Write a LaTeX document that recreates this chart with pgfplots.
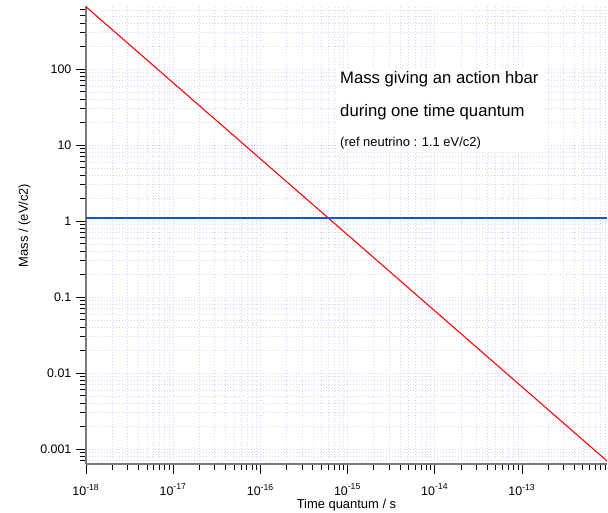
\documentclass[border=0pt]{standalone}
\usepackage{fontspec}
\setmainfont{Liberation Sans}
\usepackage{pgfplots}
\pgfplotsset{compat=1.18}
\definecolor{gridlav}{RGB}{212,212,255}
\definecolor{axisgray}{RGB}{120,120,120}
\definecolor{hbarred}{RGB}{255,0,0}
\definecolor{nublue}{RGB}{20,80,240}

\begin{document}
\begin{tikzpicture}
\begin{axis}[
    at={(0,0)}, anchor=south west,
    scale only axis,
    width=390.75pt, height=343.5pt,
    xmode=log, ymode=log,
    log basis x=10, log basis y=10,
    xmin=1e-18, xmax=9.45e-13,
    ymin=6.35e-4, ymax=674,
    axis x line*=bottom, axis y line*=left,
    axis line style={axisgray, line width=1.1pt, -},
    tick align=outside,
    major tick length=7.5pt, minor tick length=4.5pt,
    tick style={black, line width=0.6pt},
    grid=both,
    major grid style={gridlav, dash pattern=on 0.75pt off 1.5pt, line width=0.5pt},
    minor grid style={gridlav, dash pattern=on 0.75pt off 1.5pt, line width=0.5pt},
    /pgf/number format/assume math mode=true,
    log ticks with fixed point,
    xticklabel={10\textsuperscript{\pgfmathprintnumber[fixed,precision=0]{\tick}}},
    ticklabel style={font=\fontsize{9.3}{11}\selectfont},
    xticklabel style={yshift=-4pt},
    label style={font=\fontsize{9.7}{11}\selectfont},
    xlabel={Time quantum / s},
    ylabel={Mass / (eV/c2)},
    xlabel style={at={(axis description cs:0.5,0)}, anchor=base, yshift=-33.5pt},
    ylabel style={at={([xshift=-43.5pt]axis description cs:0,0.521)}, anchor=base},
    clip=true,
]
% m = hbar / t  (hbar = 6.582e-16 eV s)
\addplot[hbarred, line width=0.8pt] coordinates {
    (1e-18, 658.2)
    (9.45e-13, 6.965e-4)
};
% reference neutrino mass
\addplot[color=nublue, line width=1pt] coordinates {
    (1e-18, 1.1)
    (9.45e-13, 1.1)
};
\fill[white] (rel axis cs:0.4837,0.681) rectangle (rel axis cs:0.881,0.8646);
\node[anchor=base west, inner sep=0pt, font=\fontsize{12.5}{15}\selectfont]
    at (rel axis cs:0.4875,0.8312) {Mass giving an action hbar};
\node[anchor=base west, inner sep=0pt, font=\fontsize{12.5}{15}\selectfont]
    at (rel axis cs:0.4875,0.7583) {during one time quantum};
\node[anchor=base west, inner sep=0pt, font=\fontsize{9.7}{12}\selectfont]
    at (rel axis cs:0.4875,0.6928) {(ref neutrino : 1.1 eV/c2)};
\end{axis}
\pgfresetboundingbox
\path[use as bounding box] (-64.5pt,-36pt) rectangle (391.5pt,348pt);
\end{tikzpicture}
\end{document}
